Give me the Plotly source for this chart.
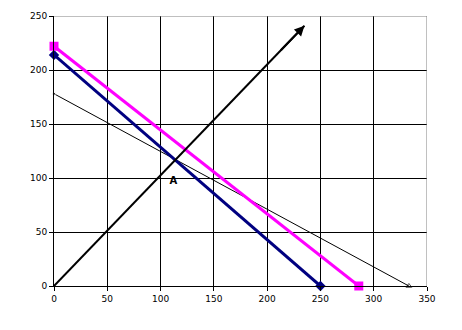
import plotly.graph_objects as go

# Data
thin_x = [0, 333]
thin_y = [178, 0]
navy_x = [0, 250]
navy_y = [214, 0]
mag_x = [0, 286]
mag_y = [222, 0]
arrow_x = [0, 235]
arrow_y = [0, 241]
label_x = [112]
label_y = [97]
label_text = ["<b>A</b>"]
x_ticks = [0, 50, 100, 150, 200, 250, 300, 350]
y_ticks = [0, 50, 100, 150, 200, 250]

fig = go.Figure()
fig.add_trace(go.Scatter(x=thin_x, y=thin_y, mode="lines+markers",
                         line=dict(color="black", width=1),
                         marker=dict(symbol=["circle", "triangle-up-open"], size=[3, 5], color="black"),
                         cliponaxis=False, showlegend=False))
fig.add_trace(go.Scatter(x=navy_x, y=navy_y, mode="lines+markers",
                         line=dict(color="#000080", width=3),
                         marker=dict(symbol="diamond", size=8, color="#000080"),
                         cliponaxis=False, showlegend=False))
fig.add_trace(go.Scatter(x=mag_x, y=mag_y, mode="lines+markers",
                         line=dict(color="#FF00FF", width=3),
                         marker=dict(symbol="square", size=9, color="#FF00FF"),
                         cliponaxis=False, showlegend=False))
fig.add_trace(go.Scatter(x=arrow_x, y=arrow_y, mode="lines",
                         line=dict(color="black", width=2),
                         cliponaxis=False, showlegend=False))
fig.add_annotation(x=arrow_x[1], y=arrow_y[1], ax=arrow_x[0] + (arrow_x[1]-arrow_x[0])*0.9,
                   ay=arrow_y[0] + (arrow_y[1]-arrow_y[0])*0.9,
                   xref="x", yref="y", axref="x", ayref="y", text="",
                   showarrow=True, arrowhead=2, arrowsize=1, arrowwidth=2, arrowcolor="black")
fig.add_trace(go.Scatter(x=label_x, y=label_y, mode="text", text=label_text,
                         textfont=dict(family="DejaVu Sans", size=10, color="black"),
                         cliponaxis=False, showlegend=False))

axis_common = dict(showgrid=True, gridcolor="black", gridwidth=1,
                   showline=True, linecolor="black", linewidth=1,
                   ticks="outside", ticklen=4, tickcolor="black",
                   zeroline=False,
                   tickfont=dict(family="DejaVu Sans", size=9, color="black"))
fig.update_xaxes(range=[0, 350], tickvals=x_ticks, **axis_common)
fig.update_yaxes(range=[0, 250], tickvals=y_ticks, **axis_common)

# gray top and right border
fig.add_shape(type="line", xref="x", yref="y", x0=0, x1=350, y0=250, y1=250,
              line=dict(color="#808080", width=1), layer="above")
fig.add_shape(type="line", xref="x", yref="y", x0=350, x1=350, y0=0, y1=250,
              line=dict(color="#808080", width=1), layer="above")

fig.update_layout(width=462, height=330, margin=dict(l=54, r=35, t=16, b=44),
                  plot_bgcolor="white", paper_bgcolor="white")
fig.write_html("out.html")
